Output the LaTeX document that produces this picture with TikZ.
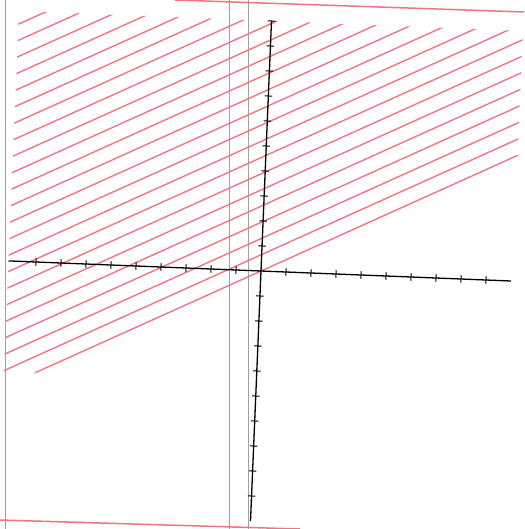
\documentclass[tikz,border=0pt]{standalone}
\usetikzlibrary{arrows.meta}
\definecolor{hatchred}{HTML}{EF7582}
\definecolor{scangray}{HTML}{A0A0A0}

\begin{document}
\begin{tikzpicture}[x=1pt, y=-1pt,
  axisline/.style={black, line width=1.3pt},
  axtick/.style={black, line width=1pt},
  hatchline/.style={hatchred, line width=1.4pt},
  scanline/.style={scangray, line width=0.7pt},
  scanedge/.style={hatchred, line width=1.5pt}]
  \useasboundingbox (0,0) rectangle (524,529);
  % borders of the scanned sheet
  \draw[scanline] (5,0) -- (5,529);
  \draw[scanline] (229,0) -- (229,529);
  \draw[scanline] (248,0) -- (248,529);
  \draw[scanedge] (175,0) -- (524,12);
  \draw[scanedge] (0,520) -- (300,529);
  \coordinate (O) at (261,271);
  \begin{scope}[shift={(O)}, x={(25pt,-1pt)}, y={(1.05pt,25pt)}]
    % region y >= x/2
    \begin{scope}
      \clip (-10.1,-4.45) -- (-8.7,-4.42) -- (0,-0.07) -- (10.05,4.955)
        -- (10.05,10) -- (-10.1,10) -- cycle;
      \foreach \k in {0,...,23}
        \draw[hatchline] (-10.5,{-5.25+0.66*\k}) -- (10.5,{5.25+0.66*\k});
    \end{scope}
    % axes
    \coordinate (xmin) at (-10.1,0);
    \coordinate (xmax) at (10,0);
    \coordinate (ymin) at (0,-10);
    \coordinate (ymax) at (0,10);
    \draw[axisline] (xmin) -- (xmax);
    \draw[axisline] (ymin) -- (ymax);
    \foreach \k in {-9,...,-1,1,2,...,9}
      \draw[axtick] (\k,-0.15) -- (\k,0.15);
    \foreach \k in {-9,...,-1,1,2,...,10}
      \draw[axtick] (-0.15,\k) -- (0.15,\k);
  \end{scope}
\end{tikzpicture}
\end{document}
